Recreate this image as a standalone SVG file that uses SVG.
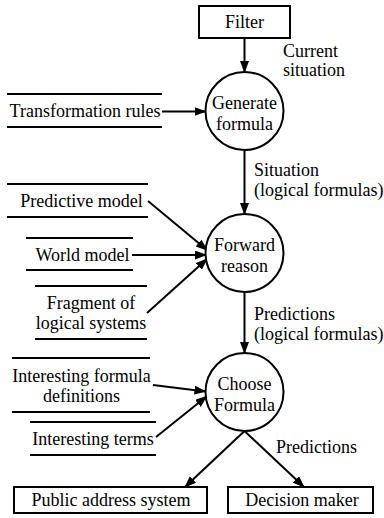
<svg xmlns="http://www.w3.org/2000/svg" width="384" height="518" viewBox="0 0 384 518">
  <style>
    text { font-size: 18px; fill: #000; }
    .mid { text-anchor: middle; }
    .shape { fill: #fff; stroke: #000; stroke-width: 2; }
    .store { stroke: #000; stroke-width: 2; }
    .edge { fill: none; stroke: #000; stroke-width: 2; marker-end: url(#arrow); }
  </style>
  <defs>
    <marker id="arrow" markerUnits="userSpaceOnUse" markerWidth="12" markerHeight="10" refX="11" refY="4.5" orient="auto">
      <path d="M0,0 L12,4.5 L0,9 z" fill="#000"/>
    </marker>
  </defs>
  <rect width="384" height="518" fill="#fff"/>

  <!-- data flows -->
  <g id="connectors">
    <line class="edge" x1="244.5" y1="38" x2="244.5" y2="72"/>
    <line class="edge" x1="244.5" y1="150" x2="244.5" y2="214"/>
    <line class="edge" x1="244.5" y1="292" x2="244.5" y2="353"/>
    <line class="edge" x1="162" y1="111.5" x2="205.5" y2="111.5"/>
    <line class="edge" x1="148" y1="201" x2="207" y2="250"/>
    <line class="edge" x1="132" y1="255" x2="206" y2="255"/>
    <line class="edge" x1="147" y1="313" x2="207" y2="259"/>
    <line class="edge" x1="153" y1="385" x2="205.5" y2="391.5"/>
    <line class="edge" x1="156" y1="437" x2="206.5" y2="396.5"/>
    <line class="edge" x1="244.5" y1="431" x2="185" y2="487"/>
    <line class="edge" x1="244.5" y1="431" x2="304" y2="487"/>
    <text style="font-family:'Liberation Serif',Tinos,'Times New Roman',serif" x="283" y="57">Current</text>
    <text style="font-family:'Liberation Serif',Tinos,'Times New Roman',serif" x="283" y="76">situation</text>
    <text style="font-family:'Liberation Serif',Tinos,'Times New Roman',serif" x="254" y="176">Situation</text>
    <text style="font-family:'Liberation Serif',Tinos,'Times New Roman',serif" x="254" y="196">(logical formulas)</text>
    <text style="font-family:'Liberation Serif',Tinos,'Times New Roman',serif" x="254" y="320">Predictions</text>
    <text style="font-family:'Liberation Serif',Tinos,'Times New Roman',serif" x="254" y="340">(logical formulas)</text>
    <text style="font-family:'Liberation Serif',Tinos,'Times New Roman',serif" x="276" y="453">Predictions</text>
  </g>

  <!-- external entities -->
  <g id="filter">
    <rect class="shape" x="199" y="6" width="91" height="32"/>
    <text class="mid" style="font-family:'Liberation Serif',Tinos,'Times New Roman',serif" x="244.5" y="28">Filter</text>
  </g>
  <g id="public-address">
    <rect class="shape" x="14" y="487" width="193" height="26"/>
    <text class="mid" style="font-family:'Liberation Serif',Tinos,'Times New Roman',serif" x="111" y="506">Public address system</text>
  </g>
  <g id="decision-maker">
    <rect class="shape" x="228" y="487" width="145" height="26"/>
    <text class="mid" style="font-family:'Liberation Serif',Tinos,'Times New Roman',serif" x="302" y="506">Decision maker</text>
  </g>

  <!-- processes -->
  <g id="generate-formula">
    <circle class="shape" cx="244.5" cy="111" r="39"/>
    <text class="mid" style="font-family:'Liberation Serif',Tinos,'Times New Roman',serif" x="244.5" y="108.5">Generate</text>
    <text class="mid" style="font-family:'Liberation Serif',Tinos,'Times New Roman',serif" x="244.5" y="129.5">formula</text>
  </g>
  <g id="forward-reason">
    <circle class="shape" cx="244.5" cy="253" r="39"/>
    <text class="mid" style="font-family:'Liberation Serif',Tinos,'Times New Roman',serif" x="244.5" y="250.5">Forward</text>
    <text class="mid" style="font-family:'Liberation Serif',Tinos,'Times New Roman',serif" x="244.5" y="271.5">reason</text>
  </g>
  <g id="choose-formula">
    <circle class="shape" cx="244.5" cy="392" r="39"/>
    <text class="mid" style="font-family:'Liberation Serif',Tinos,'Times New Roman',serif" x="244.5" y="389.5">Choose</text>
    <text class="mid" style="font-family:'Liberation Serif',Tinos,'Times New Roman',serif" x="244.5" y="410.5">Formula</text>
  </g>

  <!-- data stores -->
  <g id="transformation-rules">
    <line class="store" x1="7" y1="94" x2="162" y2="94"/>
    <line class="store" x1="7" y1="127" x2="162" y2="127"/>
    <text class="mid" style="font-family:'Liberation Serif',Tinos,'Times New Roman',serif" x="85" y="117">Transformation rules</text>
  </g>
  <g id="predictive-model">
    <line class="store" x1="7" y1="184" x2="148" y2="184"/>
    <line class="store" x1="7" y1="217" x2="148" y2="217"/>
    <text class="mid" style="font-family:'Liberation Serif',Tinos,'Times New Roman',serif" x="81.5" y="206.5">Predictive model</text>
  </g>
  <g id="world-model">
    <line class="store" x1="26" y1="238" x2="133" y2="238"/>
    <line class="store" x1="26" y1="270" x2="133" y2="270"/>
    <text class="mid" style="font-family:'Liberation Serif',Tinos,'Times New Roman',serif" x="82.5" y="260.5">World model</text>
  </g>
  <g id="fragment-logical-systems">
    <line class="store" x1="35" y1="286" x2="147" y2="286"/>
    <line class="store" x1="35" y1="339" x2="147" y2="339"/>
    <text class="mid" style="font-family:'Liberation Serif',Tinos,'Times New Roman',serif" x="91" y="309">Fragment of</text>
    <text class="mid" style="font-family:'Liberation Serif',Tinos,'Times New Roman',serif" x="91" y="329">logical systems</text>
  </g>
  <g id="interesting-formula-definitions">
    <line class="store" x1="12" y1="358" x2="150" y2="358"/>
    <line class="store" x1="12" y1="412" x2="150" y2="412"/>
    <text class="mid" style="font-family:'Liberation Serif',Tinos,'Times New Roman',serif" x="81.5" y="382">Interesting formula</text>
    <text class="mid" style="font-family:'Liberation Serif',Tinos,'Times New Roman',serif" x="81.5" y="402">definitions</text>
  </g>
  <g id="interesting-terms">
    <line class="store" x1="30" y1="422" x2="156" y2="422"/>
    <line class="store" x1="30" y1="455" x2="156" y2="455"/>
    <text class="mid" style="font-family:'Liberation Serif',Tinos,'Times New Roman',serif" x="93" y="444.5">Interesting terms</text>
  </g>
</svg>
